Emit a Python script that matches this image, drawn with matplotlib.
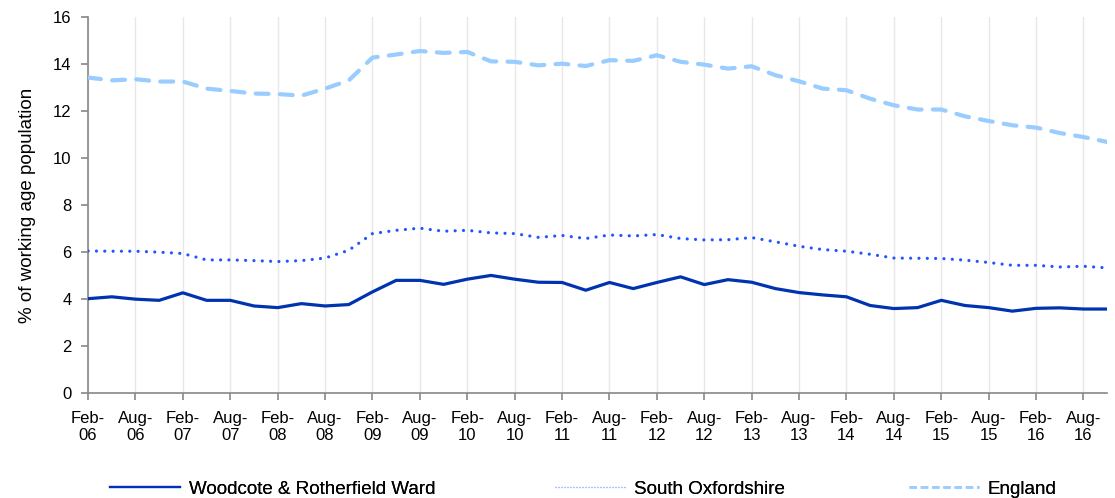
import matplotlib
matplotlib.use("Agg")
import matplotlib.pyplot as plt
from matplotlib.lines import Line2D
import numpy as np

plt.rcParams["font.family"] = ["Liberation Sans", "DejaVu Sans"]

# quarterly observations, Feb-06 .. Nov-16
woodcote = [4.01, 4.09, 3.99, 3.94, 4.26, 3.94, 3.94, 3.70, 3.63, 3.80, 3.70, 3.76,
            4.30, 4.79, 4.79, 4.62, 4.84, 5.00, 4.84, 4.71, 4.70, 4.37, 4.70, 4.44,
            4.70, 4.94, 4.61, 4.82, 4.71, 4.44, 4.27, 4.17, 4.09, 3.72, 3.59, 3.63,
            3.94, 3.72, 3.63, 3.48, 3.60, 3.62, 3.57, 3.57]
south_oxon = [6.04, 6.03, 6.03, 5.99, 5.93, 5.66, 5.66, 5.63, 5.59, 5.63, 5.74, 6.07,
              6.78, 6.92, 7.01, 6.88, 6.92, 6.81, 6.78, 6.62, 6.70, 6.57, 6.72, 6.68,
              6.74, 6.57, 6.51, 6.52, 6.61, 6.43, 6.24, 6.10, 6.03, 5.90, 5.74, 5.73,
              5.72, 5.65, 5.55, 5.43, 5.43, 5.36, 5.39, 5.32]
england = [13.42, 13.30, 13.35, 13.25, 13.25, 12.95, 12.85, 12.74, 12.72, 12.65, 12.95, 13.30,
           14.27, 14.40, 14.55, 14.47, 14.51, 14.11, 14.09, 13.94, 14.01, 13.91, 14.16, 14.13,
           14.37, 14.09, 13.97, 13.80, 13.90, 13.52, 13.26, 12.95, 12.88, 12.52, 12.24, 12.06,
           12.06, 11.77, 11.57, 11.39, 11.29, 11.06, 10.89, 10.68]

tick_labels = [f"{m}-\n{y:02d}" for y in range(6, 17) for m in ("Feb", "Aug")]

x = np.arange(len(woodcote))

fig = plt.figure(figsize=(11.15, 4.98), dpi=100)
ax = fig.add_axes([0.079, 0.211, 0.914, 0.755])

ax.plot(x, england, color="#99ccff", lw=3, linestyle=(0, (3.1, 2.7)),
        dash_capstyle="round", zorder=3)
ax.plot(x, south_oxon, color="#2255ff", lw=2.3, linestyle=(0, (0.01, 2.6)),
        dash_capstyle="round", zorder=3)
ax.plot(x, woodcote, color="#0033b0", lw=2.3, zorder=4)

ax.set_xlim(0, len(x) - 1)
ax.set_ylim(0, 16)
ax.set_yticks(range(0, 17, 2))
ax.set_xticks(np.arange(0, len(x), 2))
ax.set_xticklabels(tick_labels, fontsize=12)
ax.tick_params(axis="y", labelsize=12, pad=7)
ax.tick_params(axis="x", pad=8)
ax.tick_params(direction="out", length=5, color="#888888", width=1.2)
ax.grid(axis="x", color="#e8e8e8", lw=1)
ax.set_axisbelow(True)

for s in ["top", "right"]:
    ax.spines[s].set_visible(False)
for s in ["left", "bottom"]:
    ax.spines[s].set_color("#888888")
    ax.spines[s].set_linewidth(1.2)

ax.set_ylabel("% of working age population", fontsize=13.5, labelpad=12)

# legend entries laid out along the bottom, one per series
entries = [
    (Line2D([], [], color="#0033b0", lw=1.6), "Woodcote & Rotherfield Ward", 0.0987),
    (Line2D([], [], color="#99aaff", lw=0.9, linestyle=(0, (0.8, 1.6))), "South Oxfordshire", 0.498),
    (Line2D([], [], color="#99ccff", lw=1.8, linestyle=(0, (3, 1.5))), "England", 0.815),
]
for handle, label, xpos in entries:
    leg = fig.legend([handle], [label], loc="center left", bbox_to_anchor=(xpos, 0.018),
                     frameon=False, fontsize=13.5, handlelength=3.75, handletextpad=0.45,
                     borderaxespad=0, borderpad=0)
    fig.add_artist(leg)

fig.savefig("out.png", dpi=100)
